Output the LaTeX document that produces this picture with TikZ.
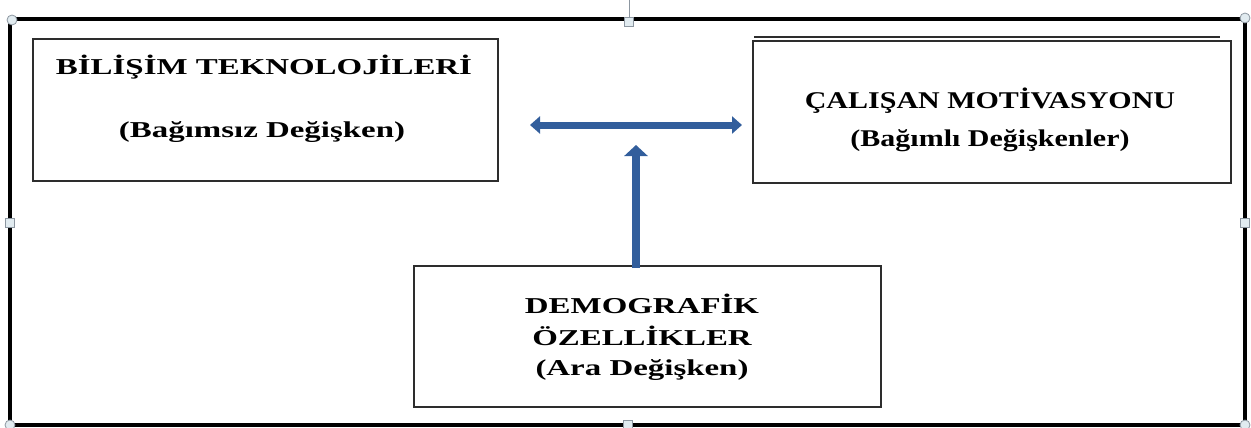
\documentclass[tikz,border=0pt]{standalone}
\usepackage{fontspec}
\usetikzlibrary{arrows.meta}
\newfontfamily\wideserif{Liberation Serif}[FakeStretch=1.45]
\newfontfamily\midserif{Liberation Serif}[FakeStretch=1.25]
\definecolor{arrowblue}{RGB}{50,94,156}
\definecolor{boxline}{RGB}{45,45,45}
\definecolor{handlefill}{RGB}{225,235,240}
\definecolor{handleline}{RGB}{140,150,160}
\tikzset{
  varbox/.style={draw=boxline,line width=1.6pt,rectangle,inner sep=0pt,anchor=north west},
  txtA/.style={font=\wideserif\bfseries\fontsize{22.7}{27}\selectfont,anchor=base,inner sep=0pt},
  txtB/.style={font=\midserif\bfseries\fontsize{24}{28}\selectfont,anchor=base,inner sep=0pt},
  bigarrow/.style={draw=arrowblue,line width=7pt},
  sqhandle/.style={draw=handleline,fill=handlefill,line width=0.8pt,rectangle,minimum size=9pt,inner sep=0pt},
  cirhandle/.style={draw=handleline,fill=handlefill,line width=0.8pt,circle,minimum size=10pt,inner sep=0pt},
}
\begin{document}
\begin{tikzpicture}[x=1pt,y=-1pt]
\useasboundingbox (0,0) rectangle (1251,428);
% outer frame
\draw[line width=4.5pt,black] (10,19) rectangle (1245,425);
\draw[handleline,line width=0.8pt] (629,0) -- (629,18);
% boxes
\node[varbox,minimum width=465pt,minimum height=142pt] (b1) at (32,38) {};
\draw[boxline,line width=1.2pt] (754,37) -- (1220,37);
\node[varbox,minimum width=478pt,minimum height=142pt] (b2) at (752,40) {};
\node[varbox,minimum width=467pt,minimum height=141pt] (b3) at (413,265) {};
% texts
\node[txtA] (t1a) at (264,75) {BİLİŞİM TEKNOLOJİLERİ};
\node[txtA] (t1b) at (262,137) {(Bağımsız Değişken)};
\node[txtB] (t2a) at (990,108) {ÇALIŞAN MOTİVASYONU};
\node[txtB] (t2b) at (990,146) {(Bağımlı Değişkenler)};
\node[txtA] (t3a) at (642,313) {DEMOGRAFİK};
\node[txtA] (t3b) at (642,345) {ÖZELLİKLER};
\node[txtA] (t3c) at (642,375) {(Ara Değişken)};
% arrows
\coordinate (hl) at (530,125);
\coordinate (hr) at (742,125);
\draw[bigarrow,{Triangle[width=17pt,length=10pt]}-{Triangle[width=17pt,length=10pt]}] (hl) -- (hr);
\coordinate (vt) at (636,145);
\draw[bigarrow,line width=8pt,-{Triangle[width=23pt,length=11pt]}] (b3.north -| vt) ++(0,3) -- (vt);
% handles
\node[sqhandle] (h1) at (629,22) {};
\node[sqhandle] (h2) at (10,223) {};
\node[sqhandle] (h3) at (1245,223) {};
\node[sqhandle] (h4) at (628,425) {};
\node[cirhandle] (c1) at (12,20) {};
\node[cirhandle] (c2) at (1245,18) {};
\node[cirhandle] (c3) at (1245,425) {};
\node[cirhandle] (c4) at (10,425) {};
\end{tikzpicture}
\end{document}
